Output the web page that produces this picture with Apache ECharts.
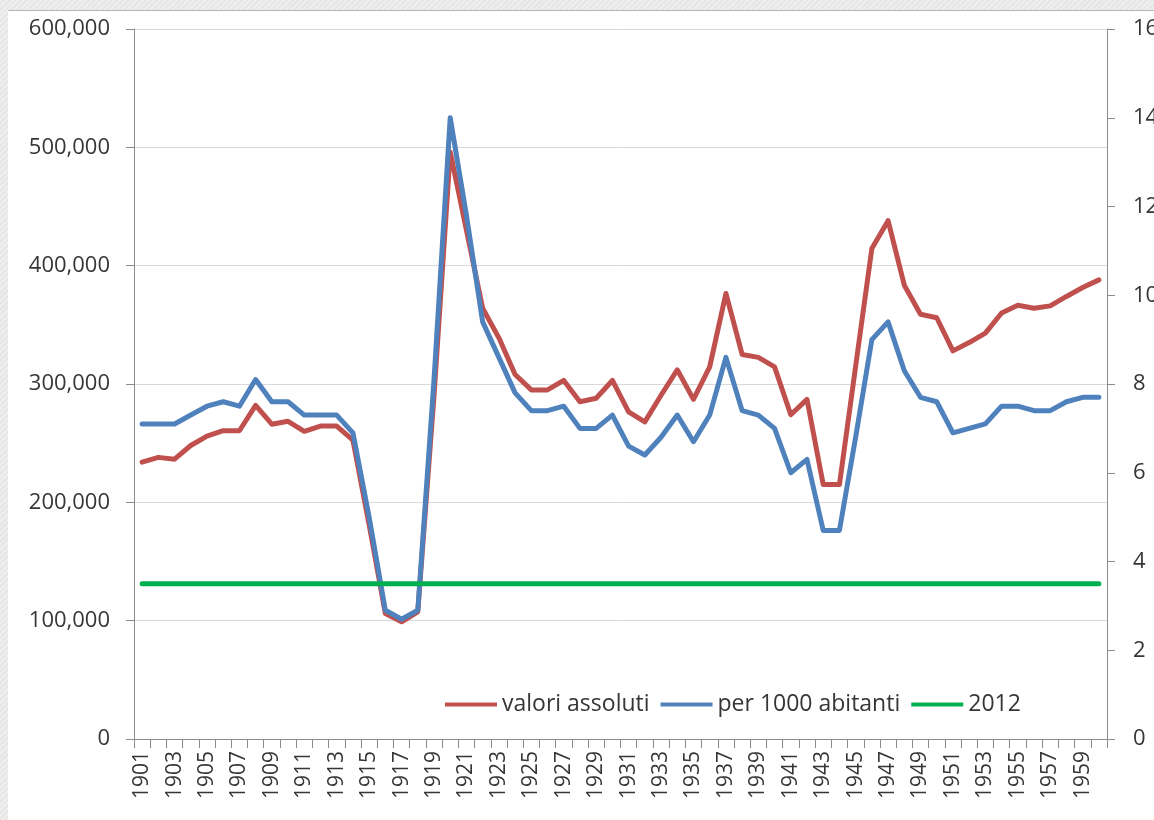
<!DOCTYPE html>
<html>
<head>
<meta charset="utf-8">
<script src="https://cdn.jsdelivr.net/npm/echarts@6/dist/echarts.min.js"></script>
<style>
  html, body { margin: 0; padding: 0; width: 1154px; height: 820px; overflow: hidden;
    background: repeating-linear-gradient(135deg, #eeeeee 0px, #eeeeee 2px, #e6e6e6 2px, #e6e6e6 4px); }
  #frame { position: absolute; left: 8px; top: 10px; width: 1146px; height: 810px;
    background: #ffffff; border-top: 1px solid #b4b4b4; box-sizing: border-box; }
  #chart { position: absolute; left: 0; top: 0; width: 1146px; height: 809px; }
</style>
</head>
<body>
<div id="frame"><div id="chart"></div></div>
<script>
const years = ['1901','1902','1903','1904','1905','1906','1907','1908','1909','1910',
  '1911','1912','1913','1914','1915','1916','1917','1918','1919','1920',
  '1921','1922','1923','1924','1925','1926','1927','1928','1929','1930',
  '1931','1932','1933','1934','1935','1936','1937','1938','1939','1940',
  '1941','1942','1943','1944','1945','1946','1947','1948','1949','1950',
  '1951','1952','1953','1954','1955','1956','1957','1958','1959','1960'];

const valoriAssoluti = [234000,238000,236500,248000,256000,260500,260500,282000,266000,268500,
  260000,264500,264500,252500,181000,106000,99000,107500,290000,496000,
  430000,364000,339000,308000,295000,295000,303000,285000,288000,303000,
  276500,268000,290500,312000,287000,314500,376500,325000,322500,314500,
  274000,287000,215000,215000,315000,414500,438000,383500,359000,356000,
  328000,335000,343000,360000,366500,364000,366000,374000,381500,388000];

const per1000 = [7.1,7.1,7.1,7.3,7.5,7.6,7.5,8.1,7.6,7.6,
  7.3,7.3,7.3,6.9,5.0,2.9,2.7,2.9,8.1,14.0,
  11.8,9.4,8.6,7.8,7.4,7.4,7.5,7.0,7.0,7.3,
  6.6,6.4,6.8,7.3,6.7,7.3,8.6,7.4,7.3,7.0,
  6.0,6.3,4.7,4.7,6.8,9.0,9.4,8.3,7.7,7.6,
  6.9,7.0,7.1,7.5,7.5,7.4,7.4,7.6,7.7,7.7];

const ref2012 = [3.5,3.5,3.5,3.5,3.5,3.5,3.5,3.5,3.5,3.5,
  3.5,3.5,3.5,3.5,3.5,3.5,3.5,3.5,3.5,3.5,
  3.5,3.5,3.5,3.5,3.5,3.5,3.5,3.5,3.5,3.5,
  3.5,3.5,3.5,3.5,3.5,3.5,3.5,3.5,3.5,3.5,
  3.5,3.5,3.5,3.5,3.5,3.5,3.5,3.5,3.5,3.5,
  3.5,3.5,3.5,3.5,3.5,3.5,3.5,3.5,3.5,3.5];

const seriesNames = ['valori assoluti', 'per 1000 abitanti', '2012'];

const chart = echarts.init(document.getElementById('chart'), null, { renderer: 'canvas' });
const axisColor = '#8c8c8c';
const textColor = '#363636';
const font = 'Open Sans';

chart.setOption({
  animation: false,
  backgroundColor: '#ffffff',
  grid: { left: 126, top: 18, right: 47, bottom: 81, containLabel: false, outerBoundsMode: 'none' },
  legend: {
    data: seriesNames,
    left: 432, top: 677,
    icon: 'rect',
    itemWidth: 52, itemHeight: 4,
    itemGap: 11,
    textStyle: { fontFamily: font, fontSize: 23, color: textColor }
  },
  xAxis: {
    type: 'category',
    data: years,
    boundaryGap: true,
    axisLine: { lineStyle: { color: axisColor, width: 1 } },
    axisTick: { show: true, interval: 0, length: 9, lineStyle: { color: axisColor } },
    axisLabel: { interval: 1, rotate: 90, margin: 12, fontFamily: font, fontSize: 21, color: textColor },
    splitLine: { show: false }
  },
  yAxis: [
    {
      type: 'value', min: 0, max: 600000, interval: 100000, position: 'left',
      axisLine: { show: true, lineStyle: { color: axisColor } },
      axisTick: { show: true, length: 8, lineStyle: { color: axisColor } },
      axisLabel: { margin: 24, fontFamily: font, fontSize: 22, color: textColor,
        formatter: v => v.toLocaleString('en-US') },
      splitLine: { show: true, lineStyle: { color: '#d9d9d9', width: 1 } }
    },
    {
      type: 'value', min: 0, max: 16, interval: 2, position: 'right',
      axisLine: { show: true, lineStyle: { color: axisColor } },
      axisTick: { show: true, length: 8, lineStyle: { color: axisColor } },
      axisLabel: { margin: 26, fontFamily: font, fontSize: 22, color: textColor },
      splitLine: { show: false }
    }
  ],
  series: [
    { name: seriesNames[0], type: 'line', yAxisIndex: 0, data: valoriAssoluti,
      symbol: 'none', smooth: false, color: '#C0504D',
      lineStyle: { width: 5, color: '#C0504D', join: 'round', cap: 'round' } },
    { name: seriesNames[1], type: 'line', yAxisIndex: 1, data: per1000,
      symbol: 'none', smooth: false, color: '#4F81BD',
      lineStyle: { width: 5, color: '#4F81BD', join: 'round', cap: 'round' } },
    { name: seriesNames[2], type: 'line', yAxisIndex: 1, data: ref2012,
      symbol: 'none', smooth: false, color: '#00B050',
      lineStyle: { width: 5, color: '#00B050', cap: 'round' } }
  ]
});
</script>
</body>
</html>
